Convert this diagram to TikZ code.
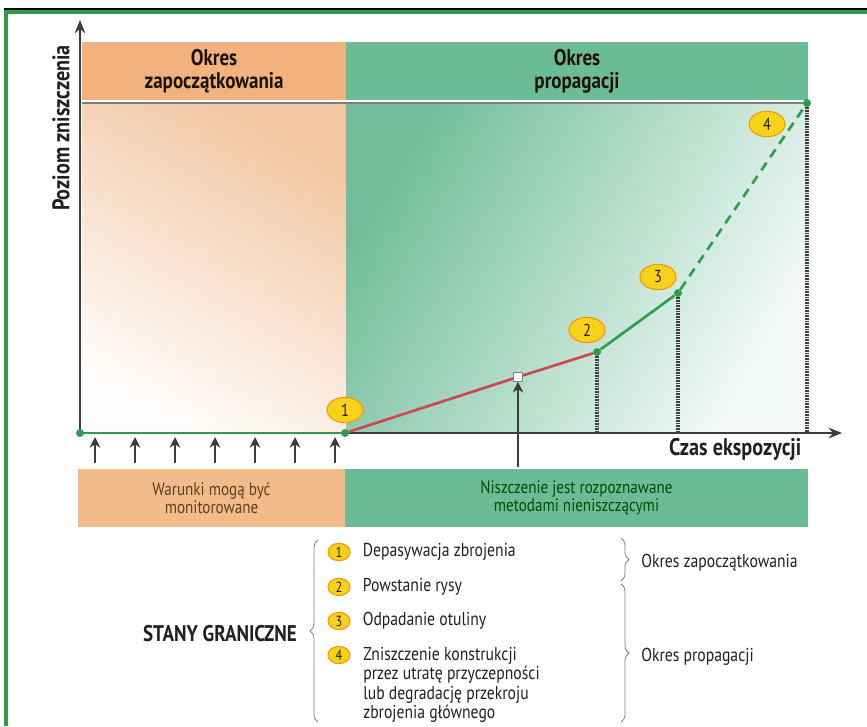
\documentclass[tikz,border=0pt]{standalone}
\usepackage{fontspec}
\setmainfont{PT Sans}[FakeStretch=0.84]
\usetikzlibrary{arrows.meta, positioning, shapes.geometric, decorations.pathreplacing}

\definecolor{frameGreen}{HTML}{2E9A4A}
\definecolor{initOrange}{HTML}{F2B27E}
\definecolor{propGreen}{HTML}{6CBB97}
\definecolor{bodyOrange}{HTML}{F2C6A2}
\definecolor{bodyGreen}{HTML}{72BE9C}
\definecolor{curveRed}{HTML}{D0484A}
\definecolor{curveGreen}{HTML}{2E9E4E}
\definecolor{stateYellow}{HTML}{F7D21A}
\definecolor{axisGray}{HTML}{3C3C3C}
\definecolor{inkGray}{HTML}{231F20}

\begin{document}
\begin{tikzpicture}[x=0.75pt, y=-0.75pt, text=inkGray,
  band/.style={inner sep=0pt, minimum height=43.5pt, align=center, font=\fontsize{13.5}{14}\selectfont},
  header/.style={band, font=\fontsize{17}{17}\selectfont\bfseries, text=black!85!brown},
  dot/.style={circle, fill=curveGreen, inner sep=0pt, minimum size=6pt},
  state/.style={ellipse, draw=orange!85!yellow, line width=0.8pt, fill=stateYellow, inner sep=0pt, minimum width=27pt, minimum height=19pt, font=\fontsize{13}{13}\selectfont},
  smallstate/.style={state, minimum width=16.5pt, minimum height=13pt, font=\fontsize{11}{11}\selectfont},
  item/.style={anchor=west, align=left, inner sep=0pt, font=\fontsize{14}{14.5}\selectfont},
  axis/.style={-{Stealth[length=10pt,width=8pt]}, axisGray, line width=1.3pt},
  upar/.style={-{Stealth[length=8pt,width=8pt]}, axisGray, line width=1.5pt},
  dropline/.style={axisGray, line width=2.6pt, dash pattern=on 1.2pt off 0.8pt},
  brc/.style={decorate, decoration={brace, amplitude=6pt}, gray, line width=0.6pt},
]
\useasboundingbox (0,0) rectangle (867,726);

% frame
\draw[black, line width=0.8pt] (4,9) -- (867,9);
\draw[frameGreen, line width=2.4pt] (6,726) -- (6,12) -- (867,12);

% periods
\shade[top color=bodyOrange, bottom color=white!96!bodyOrange, shading angle=-30] (82,104) rectangle (346,433);
\shade[top color=bodyGreen, bottom color=white!92!bodyGreen, shading angle=60] (346,104) rectangle (808,433);
\node[header, fill=initOrange, minimum width=198pt] (hinit) at (214,71) {Okres\\zapoczątkowania};
\node[header, fill=propGreen, minimum width=346.5pt] (hprop) at (577,71) {Okres\\propagacji};
\draw[white, line width=1pt] (82,100.5) -- (808,100.5);
\draw[gray, line width=1.5pt] (82,103) -- (808,103);

\node[band, fill=initOrange!90!white, text=brown!50!black, minimum width=200pt] (watch) at (211.5,498) {Warunki mogą być\\monitorowane};
\node[band, fill=propGreen, text=green!30!black, minimum width=347pt] (ndt) at (576.5,498) {Niszczenie jest rozpoznawane\\metodami nieniszczącymi};

% axes
\coordinate (O) at (80,433);
\coordinate (ytop) at (80,20);
\coordinate (xend) at (842,433);
\draw[axis] (O) -- (ytop);
\draw[axis] (O) -- (xend);
\node[font=\fontsize{18}{18}\selectfont\bfseries, rotate=90] (ylab) at (61,128) {Poziom zniszczenia};
\node[font=\fontsize{18}{18}\selectfont\bfseries, anchor=east] (xlab) at (806,449) {Czas ekspozycji};

% curve
\node[dot] (p0) at (80,433) {};
\node[dot] (p1) at (345,433) {};
\node[draw=gray, fill=white, inner sep=0pt, minimum size=7pt] (pm) at (518,377) {};
\node[dot] (p2) at (597,352) {};
\node[dot] (p3) at (678,293) {};
\node[dot] (p4) at (807,103) {};
\coordinate (b2) at (597,433);
\coordinate (b3) at (678,433);
\coordinate (b4) at (807,433);
\draw[dropline] (p2) -- (b2);
\draw[dropline] (p3) -- (b3);
\draw[dropline] (p4) -- (b4);
\draw[curveGreen, line width=2pt] (p0) -- (p1);
\draw[curveRed, line width=2pt] (p1) -- (pm) -- (p2);
\draw[curveGreen, line width=2pt] (p2) -- (p3);
\draw[curveGreen, line width=2pt, dash pattern=on 7pt off 5pt] (p3) -- (p4);

\node[state] (s1) at (345,410) {1};
\node[state] (s2) at (587,330) {2};
\node[state] (s3) at (658,277) {3};
\node[state] (s4) at (767,124) {4};

\foreach \x [count=\i] in {95,135,...,335} {
  \coordinate (lo\i) at (\x,463);
  \coordinate (hi\i) at (\x,437);
  \draw[upar] (lo\i) -- (hi\i);
}
\coordinate (mlow) at (518,467);
\draw[upar] (mlow) -- (pm.south);

% legend
\node[font=\fontsize{17}{17}\selectfont\bfseries] (limits) at (220,634) {STANY GRANICZNE};
\coordinate (bl1) at (318,722);
\coordinate (bl2) at (318,540);
\draw[brc] (bl1) -- (bl2);

\node[smallstate] (l1) at (339,552) {1};
\node[smallstate] (l2) at (339,587) {2};
\node[smallstate] (l3) at (339,621) {3};
\node[smallstate] (l4) at (339,655) {4};
\node[item, right=9pt of l1] (t1) {Depasywacja zbrojenia};
\node[item, right=9pt of l2] (t2) {Powstanie rysy};
\node[item, right=9pt of l3] (t3) {Odpadanie otuliny};
\node[item, anchor=north west] (t4) at (363,647) {Zniszczenie konstrukcji\\przez utratę przyczepności\\lub degradację przekroju\\zbrojenia głównego};

\coordinate (br1) at (621,538);
\coordinate (br2) at (621,581);
\coordinate (br3) at (621,584);
\coordinate (br4) at (621,722);
\draw[brc] (br1) -- (br2);
\draw[brc] (br3) -- (br4);
\node[item] (rinit) at (641,563) {Okres zapoczątkowania};
\node[item] (rprop) at (641,657) {Okres propagacji};
\end{tikzpicture}
\end{document}
